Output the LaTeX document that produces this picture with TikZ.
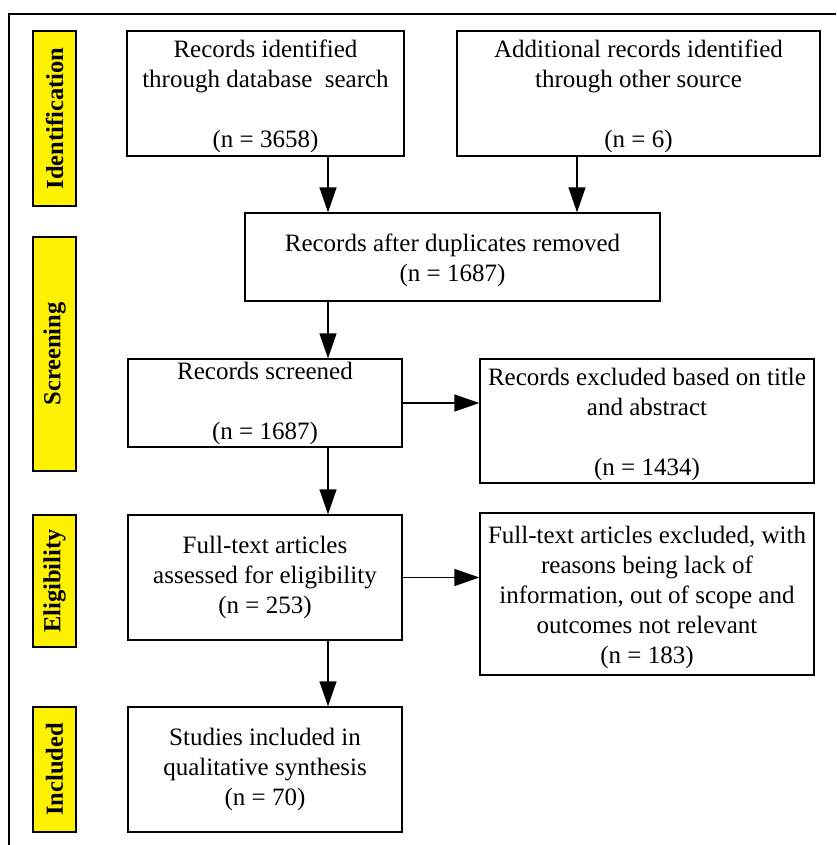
\documentclass[tikz,border=0pt]{standalone}
\usepackage{fontspec}
\setmainfont{Liberation Serif}
\usetikzlibrary{arrows.meta}
\tikzset{
  box/.style={draw=black, line width=1.3pt, fill=white, align=center, inner sep=2pt,
    font=\fontsize{25}{30}\selectfont},
  phase/.style={draw=black, line width=1.3pt, fill=yellow, rotate=90, inner sep=0pt,
    font=\fontsize{24.5}{28}\selectfont\bfseries},
  arr/.style={line width=1.3pt, -{Triangle[length=25pt,width=17pt]}},
  frame/.style={line width=1.3pt}
}
\newcommand{\toppad}[1]{\rule{0pt}{#1}}
\begin{document}
\begin{tikzpicture}[x=1pt,y=-1pt]
\useasboundingbox (0,0) rectangle (836,845);
\coordinate (fa) at (836,14);
\coordinate (fb) at (9,14);
\coordinate (fc) at (9,845);
\draw[frame] (fa) -- (fb) -- (fc);
% phase labels
\node[phase, minimum width=175pt, minimum height=43pt] (pid) at (54.5,118.5) {Identification};
\node[phase, minimum width=234pt, minimum height=43pt] (psc) at (54.5,354) {Screening};
\node[phase, minimum width=132pt, minimum height=43pt] (pel) at (54.5,581) {Eligibility};
\node[phase, minimum width=125pt, minimum height=43pt] (pin) at (54.5,769.5) {Included};
% boxes
\node[box, minimum width=277pt, minimum height=125pt] (b1) at (265.5,93.5)
  {\toppad{24pt}Records identified\\through database\ \ search\\[30pt](n = 3658)};
\node[box, minimum width=363pt, minimum height=125pt] (b2) at (638.5,93.5)
  {\toppad{24pt}Additional records identified\\through other source\\[30pt](n = 6)};
\node[box, minimum width=415pt, minimum height=88pt] (b3) at (452.5,257)
  {\toppad{24pt}Records after duplicates removed\\(n = 1687)};
\node[box, minimum width=274pt, minimum height=88pt] (b4) at (265,403)
  {Records screened\\[30pt](n = 1687)};
\node[box, minimum width=334pt, minimum height=124pt] (b5) at (647,421)
  {\toppad{24pt}Records excluded based on title\\and abstract\\[30pt](n = 1434)};
\node[box, minimum width=334pt, minimum height=162pt] (b7) at (647,594)
  {\toppad{24pt}Full-text articles excluded, with\\reasons being lack of\\information, out of scope and\\outcomes not relevant\\(n = 183)};
\node[box, minimum width=274pt, minimum height=125pt] (b6) at (265,577.5)
  {Full-text articles\\assessed for eligibility\\(n = 253)};
\node[box, minimum width=274pt, minimum height=125pt] (b8) at (265,769.5)
  {Studies included in\\qualitative synthesis\\(n = 70)};
% arrow columns
\coordinate (cl) at (328,0);
\coordinate (cr) at (577,0);
\draw[arr] (b1.south -| cl) -- (b3.north -| cl);
\draw[arr] (b2.south -| cr) -- (b3.north -| cr);
\draw[arr] (b3.south -| cl) -- (b4.north -| cl);
\draw[arr] (b4.south -| cl) -- (b6.north -| cl);
\draw[arr] (b6.south -| cl) -- (b8.north -| cl);
\draw[arr] (b4.east) -- (b5.west |- b4.east);
\draw[arr] (b6.east) -- (b7.west |- b6.east);
\end{tikzpicture}
\end{document}
